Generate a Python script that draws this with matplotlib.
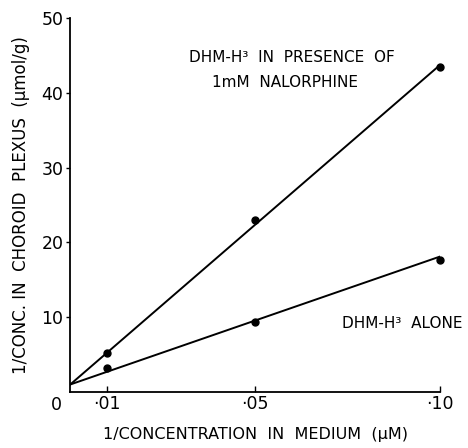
import matplotlib
matplotlib.use("Agg")
import matplotlib.pyplot as plt
import numpy as np

# data
conc_x = [0.01, 0.05, 0.10]
with_nalorphine = [5.2, 23.0, 43.4]
alone = [3.2, 9.3, 17.6]

# fitted lines (end points)
fit_x = [0.0, 0.10]
fit_nalorphine = [1.0, 43.7]
fit_alone = [1.0, 18.1]

x_ticks = [0.01, 0.05, 0.10]
x_ticklabels = ["·01", "·05", "·10"]
y_ticks = [10, 20, 30, 40, 50]

plt.rcParams['font.family'] = ['DejaVu Sans']

fig = plt.figure(figsize=(4.68, 4.48), dpi=100)
ax = fig.add_axes([0.150, 0.125, 0.790, 0.835])

ax.plot(fit_x, fit_nalorphine, color='k', lw=1.4)
ax.plot(fit_x, fit_alone, color='k', lw=1.4)
ax.plot(conc_x, with_nalorphine, 'o', color='k', ms=5, clip_on=False)
ax.plot(conc_x, alone, 'o', color='k', ms=5, clip_on=False)

ax.set_xlim(0, 0.10)
ax.set_ylim(0, 50)
ax.spines['top'].set_visible(False)
ax.spines['right'].set_visible(False)
ax.spines['left'].set_linewidth(1.3)
ax.spines['bottom'].set_linewidth(1.3)

ax.set_xticks(x_ticks)
ax.set_xticklabels(x_ticklabels)
ax.set_yticks(y_ticks)
ax.tick_params(axis='x', direction='in', length=4, width=1, labelsize=12.5, pad=2)
ax.tick_params(axis='y', direction='out', length=3, width=1, labelsize=12.5, pad=2)

ax.annotate("0", xy=(0, 0), xytext=(-10, -9), textcoords='offset points',
            ha='center', va='center', fontsize=12.5)

ax.set_xlabel("1/CONCENTRATION  IN  MEDIUM  (μM)", fontsize=11.5, labelpad=10)
ax.set_ylabel("1/CONC. IN  CHOROID  PLEXUS  (μmol/g)", fontsize=12, labelpad=8)

ax.text(0.0599, 44.7, "DHM-H³  IN  PRESENCE  OF", ha='center', va='center', fontsize=11)
ax.text(0.0580, 41.4, "1mM  NALORPHINE", ha='center', va='center', fontsize=11)
ax.text(0.0897, 9.2, "DHM-H³  ALONE", ha='center', va='center', fontsize=11)

fig.savefig("out.png", dpi=100)
